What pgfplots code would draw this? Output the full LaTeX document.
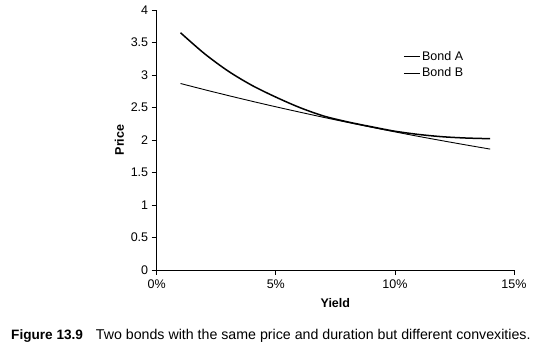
\documentclass[border=0pt]{standalone}
\usepackage{pgfplots}
\pgfplotsset{compat=1.18}
\usepackage{fontspec}
\setmainfont{Liberation Sans}
\begin{document}
\begin{tikzpicture}[x=1pt,y=1pt]
\path[use as bounding box] (0,0) rectangle (543,352);
\begin{axis}[
  at={(156.7pt,82pt)}, anchor=south west,
  scale only axis, width=357.3pt, height=260pt,
  xmin=0, xmax=15, ymin=0, ymax=4,
  axis x line=bottom, axis y line=left,
  axis line style={-, line width=0.8pt},
  xtick={0,5,10,15}, xticklabels={0\%,5\%,10\%,15\%},
  ytick={0,0.5,1,1.5,2,2.5,3,3.5,4},
  tick align=outside, major tick length=5pt,
  tick style={black, line width=0.8pt},
  /pgf/number format/assume math mode=true,
  ticklabel style={font=\fontsize{12.5}{14}\selectfont},
  xticklabel style={yshift=-1pt},
  xlabel={\textbf{Yield}}, ylabel={\textbf{Price}},
  xlabel style={yshift=-3pt},
  label style={font=\fontsize{12.5}{14}\selectfont},
  legend style={draw=none, fill=none, at={(0.69,0.85)}, anchor=north west,
    font=\fontsize{12.5}{14}\selectfont, row sep=2pt, inner sep=0pt},
  legend cell align=left,
  legend image code/.code={\draw[black, line width=0.7pt] (0pt,0pt) -- (16pt,0pt);},
]
\addplot[black, line width=1.5pt, smooth] coordinates {
(1,3.65) (2,3.33) (3,3.06) (4,2.84) (5,2.66) (6,2.50) (7,2.37) (8,2.28)
(9,2.205) (10,2.135) (11,2.085) (12,2.05) (13,2.03) (14,2.02)};
\addlegendentry{Bond A}
\addplot[black, line width=0.9pt, smooth] coordinates {
(1,2.869) (2,2.775) (3,2.684) (4,2.596) (5,2.511) (6,2.429) (7,2.349) (8,2.272)
(9,2.197) (10,2.125) (11,2.055) (12,1.988) (13,1.923) (14,1.860)};
\addlegendentry{Bond B}
\end{axis}
\node[anchor=base west, inner sep=0pt, font=\fontsize{13.6}{15}\selectfont\bfseries] at (11,12) {Figure 13.9};
\node[anchor=base west, inner sep=0pt, font=\fontsize{14.2}{16}\selectfont] at (95.7,12) {Two bonds with the same price and duration but different convexities.};
\end{tikzpicture}
\end{document}
